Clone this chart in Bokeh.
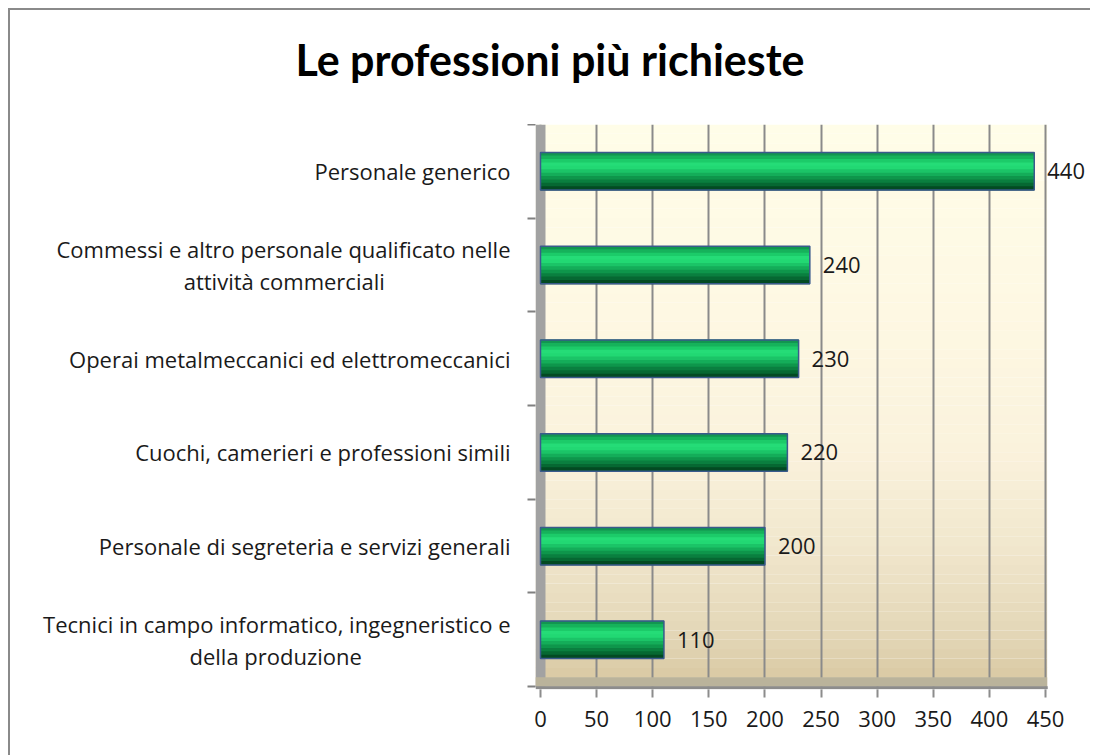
from bokeh.plotting import figure
from bokeh.models import Range1d, FixedTicker, Div
from bokeh.layouts import column
from bokeh.core.properties import value
from bokeh.embed import file_html
from bokeh.resources import INLINE

# ---- data (bottom to top) ----
NB = "\u00a0"
categories = [
    "Tecnici in campo informatico, ingegneristico e\ndella produzione",
    "Personale di segreteria e servizi generali",
    "Cuochi, camerieri e professioni simili",
    "Operai metalmeccanici ed elettromeccanici",
    "Commessi e altro personale qualificato nelle\nattività commerciali",
    "Personale generico",
]
# trailing padding (in spaces) to centre second lines of two-line labels
second_line_pad = [26, 0, 0, 0, 22, 0]
values = [110, 200, 220, 230, 240, 440]
x_ticks = [0, 50, 100, 150, 200, 250, 300, 350, 400, 450]
title_text = "Le professioni più richieste"

pos = [i + 0.5 for i in range(len(categories))]
n = len(categories)
FONT = "Open Sans"

title = Div(text=title_text, width=1080, height=114, margin=0,
            styles={"font-family": "Lato", "font-size": "43px", "font-weight": "bold",
                    "color": "#000000", "text-align": "center", "line-height": "100px",
                    "white-space": "nowrap"})

p = figure(width=1080, height=631,
           x_range=Range1d(-4.455, 490.1), y_range=Range1d(-0.03, n),
           output_backend="svg", toolbar_location=None,
           min_border_left=525, min_border_right=0,
           min_border_top=0, min_border_bottom=66, margin=0)
p.title.visible = False
p.outline_line_color = None
p.background_fill_color = "white"
p.border_fill_color = "white"

# background gradient (decoration)
stops = [(0.0, (216, 199, 160)), (0.5, (226, 213, 181)), (1.5, (241, 231, 205)),
         (2.5, (250, 242, 220)), (4.0, (254, 248, 227)), (6.0, (255, 253, 232))]
nb = 60
bl, bt, bc = [], [], []
for k in range(nb):
    y0 = n * k / nb
    y1 = n * (k + 1) / nb
    ym = (y0 + y1) / 2
    for (a, ca), (b, cb) in zip(stops[:-1], stops[1:]):
        if a <= ym <= b:
            t = (ym - a) / (b - a)
            c = tuple(int(round(ca[i] + (cb[i] - ca[i]) * t)) for i in range(3))
            break
    bl.append(y0); bt.append(y1 + 0.001); bc.append("#%02x%02x%02x" % c)
p.quad(left=-4.455, right=451.5, bottom=bl, top=bt, fill_color=bc,
       line_color=None, level="image")

# grid
p.xgrid.grid_line_color = "#8a8a8a"
p.xgrid.grid_line_width = 2
p.ygrid.visible = False

# wall and floor
p.quad(left=-4.455, right=4.455, bottom=0, top=n, fill_color="#a2a2a2", line_color=None)
p.quad(left=-4.455, right=451.5, bottom=0, top=0.1, fill_color="#bab39b", line_color=None)
p.segment(x0=-4.455, y0=-0.01, x1=452, y1=-0.01, line_color="#8c8c8c", line_width=3)

# bars (cylinder shading)
bar_h = 0.4
shades = ["#129550", "#16b25b", "#1ccb69", "#25dc77", "#22d873", "#1bc467",
          "#14ad59", "#0e964b", "#0a7f3f", "#066832", "#034a22"]
p.hbar(y=pos, right=values, left=0, height=bar_h, fill_color="#0f9a4c", line_color=None)
bh = bar_h / len(shades)
for j, col in enumerate(shades):
    off = bar_h / 2 - bh * (j + 0.5)
    p.hbar(y=[v + off for v in pos], right=values, left=0, height=bh * 1.25,
           fill_color=col, line_color=None)
p.hbar(y=pos, right=values, left=0, height=bar_h, fill_color=None,
       line_color="#3a5a8c", line_width=1.5)

# data labels
p.text(x=values, y=pos, text=[str(v) for v in values], x_offset=13,
       text_baseline="middle", text_align="left", text_font=value(FONT),
       text_font_size="22px", text_color="#1a1a1a")

# x axis
xa = p.xaxis[0]
xa.ticker = FixedTicker(ticks=x_ticks)
xa.axis_line_color = None
xa.major_tick_line_color = "#8c8c8c"
xa.major_tick_line_width = 2
xa.major_tick_out = 8
xa.major_tick_in = 0
xa.minor_tick_line_color = None
xa.major_label_standoff = 13
xa.major_label_text_font = FONT
xa.major_label_text_font_size = "22px"
xa.major_label_text_color = "#1a1a1a"

# y axis
labels = []
for c, pad in zip(categories, second_line_pad):
    labels.append(c + NB * pad if pad else c)
ya = p.yaxis[0]
ya.ticker = FixedTicker(ticks=pos, minor_ticks=list(range(n + 1)))
ya.major_label_overrides = {pv: c for pv, c in zip(pos, labels)}
ya.axis_line_color = None
ya.major_tick_line_color = None
ya.major_tick_out = 0
ya.major_tick_in = 0
ya.minor_tick_line_color = "#808080"
ya.minor_tick_line_width = 2
ya.minor_tick_out = 8
ya.minor_tick_in = 0
ya.major_label_standoff = 17
ya.major_label_text_font = FONT
ya.major_label_text_font_size = "22px"
ya.major_label_text_line_height = 1.05
ya.major_label_text_color = "#1a1a1a"

layout = column(title, p, spacing=0,
                styles={"margin-left": "8px", "margin-top": "8px",
                        "border-left": "2px solid #8a8a8a",
                        "border-top": "2px solid #8a8a8a",
                        "background-color": "white"})

open("out.html", "w").write(file_html(layout, INLINE))
